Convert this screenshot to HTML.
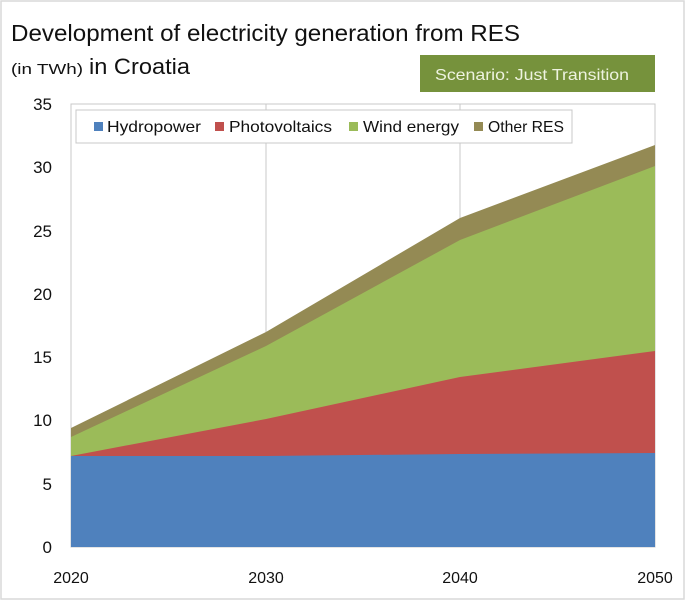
<!DOCTYPE html>
<html><head><meta charset="utf-8"><style>
body{margin:0;background:#fff;}
svg text{font-family:"Liberation Sans",sans-serif;}
</style></head><body>
<svg width="685" height="600" viewBox="0 0 685 600" xmlns="http://www.w3.org/2000/svg">
<rect x="1" y="1" width="683" height="598" fill="#fff" stroke="#d9d9d9" stroke-width="1.5"/>
<text x="11" y="41" font-size="23" fill="#111" textLength="509" lengthAdjust="spacingAndGlyphs">Development of electricity generation from RES</text>
<text x="11" y="74" font-size="15" fill="#111" textLength="72" lengthAdjust="spacingAndGlyphs">(in TWh)</text>
<text x="89" y="74" font-size="22" fill="#111" textLength="101" lengthAdjust="spacingAndGlyphs">in Croatia</text>
<rect x="420" y="55" width="235" height="37" fill="#76923c"/>
<text x="435" y="80" font-size="16" fill="#eef3e0" textLength="194" lengthAdjust="spacingAndGlyphs">Scenario: Just Transition</text>
<rect x="71" y="104" width="584" height="443" fill="#fff" stroke="#c8c8c8"/>
<line x1="266" y1="104" x2="266" y2="547" stroke="#c8c8c8"/>
<line x1="460" y1="104" x2="460" y2="547" stroke="#c8c8c8"/>
<polygon points="71,428 266,332 460,218 655,145 655,547 71,547" fill="#948a54"/>
<polygon points="71,437 266,346 460,240 655,166 655,547 71,547" fill="#9bbb59"/>
<polygon points="71,456 266,419 460,377 655,351 655,547 71,547" fill="#c0504d"/>
<polygon points="71,456 266,456 460,454 655,453 655,547 71,547" fill="#4f81bd"/>
<g font-size="17" fill="#111" text-anchor="end">
<text x="52" y="553">0</text><text x="52" y="490">5</text><text x="52" y="426">10</text>
<text x="52" y="363">15</text><text x="52" y="300">20</text><text x="52" y="237">25</text>
<text x="52" y="173">30</text><text x="52" y="110">35</text>
</g>
<g font-size="16" fill="#111" text-anchor="middle">
<text x="71" y="583">2020</text><text x="266" y="583">2030</text><text x="460" y="583">2040</text><text x="655" y="583">2050</text>
</g>
<rect x="76" y="110" width="496" height="33" fill="#fff" stroke="#c8c8c8"/>
<g font-size="16" fill="#111">
<rect x="94" y="122" width="9" height="9" fill="#4f81bd"/><text x="107" y="132" textLength="94" lengthAdjust="spacingAndGlyphs">Hydropower</text>
<rect x="215" y="122" width="9" height="9" fill="#c0504d"/><text x="229" y="132" textLength="103" lengthAdjust="spacingAndGlyphs">Photovoltaics</text>
<rect x="349" y="122" width="9" height="9" fill="#9bbb59"/><text x="363" y="132" textLength="96" lengthAdjust="spacingAndGlyphs">Wind energy</text>
<rect x="474" y="122" width="9" height="9" fill="#948a54"/><text x="488" y="132" textLength="76" lengthAdjust="spacingAndGlyphs">Other RES</text>
</g>
</svg>
</body></html>
